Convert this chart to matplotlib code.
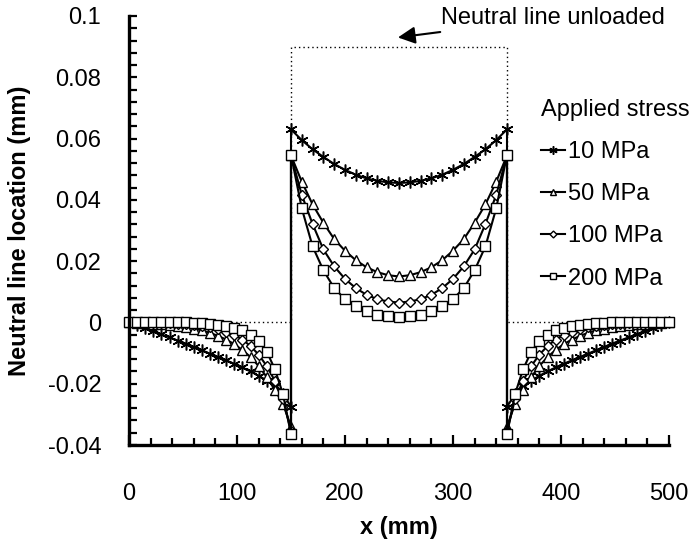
import matplotlib
matplotlib.use("Agg")
import matplotlib.pyplot as plt
from matplotlib.ticker import MultipleLocator, FixedLocator, FixedFormatter

plt.rcParams["font.family"] = ["Liberation Sans", "DejaVu Sans"]

# outer region, x = 0 .. 150 mm (right side x = 350 .. 500 is its mirror image)
x_left = [0, 7.5, 15, 22.5, 30, 37.5, 45, 52.5, 60, 67.5, 75, 82.5, 90,
          97.5, 105, 112.5, 120, 127.5, 135, 142.5, 150]
left_10 = [0, -0.0009, -0.0019, -0.0029, -0.0039, -0.0049, -0.0059, -0.0069,
           -0.0080, -0.0091, -0.0102, -0.0113, -0.0124, -0.0135, -0.0147,
           -0.0160, -0.0174, -0.0190, -0.0208, -0.0234, -0.0275]
left_50 = [0, -0.0001, -0.0002, -0.0004, -0.0006, -0.0008, -0.0011, -0.0015,
           -0.0020, -0.0026, -0.0034, -0.0044, -0.0056, -0.0071, -0.0090,
           -0.0113, -0.0142, -0.0178, -0.0220, -0.0265, -0.0340]
left_100 = [0, 0, -0.0001, -0.0001, -0.0002, -0.0003, -0.0004, -0.0006,
            -0.0008, -0.0011, -0.0016, -0.0022, -0.0030, -0.0041, -0.0056,
            -0.0077, -0.0105, -0.0142, -0.0190, -0.0250, -0.0355]
left_200 = [0, 0, 0, 0, 0, 0, 0, 0, -0.0001, -0.0002, -0.0004, -0.0007,
            -0.0011, -0.0017, -0.0026, -0.0040, -0.0060, -0.0095, -0.0152,
            -0.0233, -0.0365]

# bonded region, x = 150 .. 250 mm (symmetric about x = 250)
x_mid = [150, 160, 170, 180, 190, 200, 210, 220, 230, 240, 250]
mid_10 = [0.0630, 0.0595, 0.0565, 0.0540, 0.0517, 0.0498, 0.0482, 0.0470,
          0.0462, 0.0457, 0.0455]
mid_50 = [0.0545, 0.0459, 0.0385, 0.0325, 0.0272, 0.0234, 0.0203, 0.0180,
          0.0164, 0.0154, 0.0150]
mid_100 = [0.0545, 0.0416, 0.0321, 0.0238, 0.0183, 0.0142, 0.0112, 0.0090,
           0.0076, 0.0068, 0.0065]
mid_200 = [0.0547, 0.0372, 0.0248, 0.0170, 0.0112, 0.0076, 0.0052, 0.0036,
           0.0025, 0.0020, 0.0019]

labels = ["10 MPa", "50 MPa", "100 MPa", "200 MPa"]

unloaded_x = [0, 150, 150, 350, 350, 500]
unloaded_y = [0, 0, 0.09, 0.09, 0, 0]

ytick_vals = [-0.04, -0.02, 0, 0.02, 0.04, 0.06, 0.08, 0.1]
ytick_labels = ["-0.04", "-0.02", "0", "0.02", "0.04", "0.06", "0.08", "0.1"]


def full_profile(left, mid):
    # mirror both halves about x = 250
    xs = x_left + x_mid + [500 - v for v in x_mid[-2::-1]] + [500 - v for v in x_left[::-1]]
    ys = left + mid + mid[-2::-1] + left[::-1]
    return xs, ys


fig = plt.figure(figsize=(6.95, 5.52), dpi=100)
ax = fig.add_axes([129 / 695, 107 / 552, 540 / 695, 429 / 552])

ax.plot(unloaded_x, unloaded_y, color="black", lw=1.0, ls=(0, (1, 2.2)), zorder=1)

styles = [
    dict(marker=(6, 2, 0), ms=8.5, mew=1.1),
    dict(marker="^", ms=6.5, mfc="white", mew=1.0),
    dict(marker="D", ms=5, mfc="white", mew=1.0),
    dict(marker="s", ms=6.5, mfc="white", mew=1.0),
]
lefts = [left_10, left_50, left_100, left_200]
mids = [mid_10, mid_50, mid_100, mid_200]
for lft, md, lab, st in zip(lefts, mids, labels, styles):
    xs, ys = full_profile(lft, md)
    ax.plot(xs, ys, color="black", lw=1.5, mec="black", label=lab, clip_on=False, **st)

ax.set_xlim(0, 500)
ax.set_ylim(-0.04, 0.1)

for side in ["top", "right"]:
    ax.spines[side].set_visible(False)
for side in ["left", "bottom"]:
    ax.spines[side].set_linewidth(2.4)

ax.xaxis.set_major_locator(MultipleLocator(100))
ax.xaxis.set_minor_locator(MultipleLocator(20))
ax.yaxis.set_major_locator(FixedLocator(ytick_vals))
ax.yaxis.set_major_formatter(FixedFormatter(ytick_labels))
ax.yaxis.set_minor_locator(MultipleLocator(0.004))

ax.tick_params(axis="x", which="major", direction="in", length=7, width=1.6, labelsize=17, pad=27)
ax.tick_params(axis="x", which="minor", direction="in", length=5, width=1.6)
ax.tick_params(axis="y", which="both", direction="in", length=6, width=1.6, labelsize=17, pad=20)

ax.set_xlabel("x (mm)", fontsize=17, fontweight="bold", labelpad=8)
ax.set_ylabel("Neutral line location (mm)", fontsize=17, fontweight="bold", labelpad=12)

ax.annotate("Neutral line unloaded", xy=(249, 0.093), xytext=(289, 0.0995),
            fontsize=17, va="center", annotation_clip=False,
            arrowprops=dict(arrowstyle="-|>", color="black", lw=1.5,
                            mutation_scale=26, shrinkA=4, shrinkB=0))

leg = ax.legend(title="Applied stress", loc="upper left", frameon=False,
                bbox_to_anchor=(520 / 695, 1 - 78 / 552), bbox_transform=fig.transFigure,
                fontsize=17, title_fontsize=17, handlelength=1.0, handletextpad=0.15,
                labelspacing=0.85, markerscale=0.7, alignment="left")

fig.savefig("out.png", dpi=100)
